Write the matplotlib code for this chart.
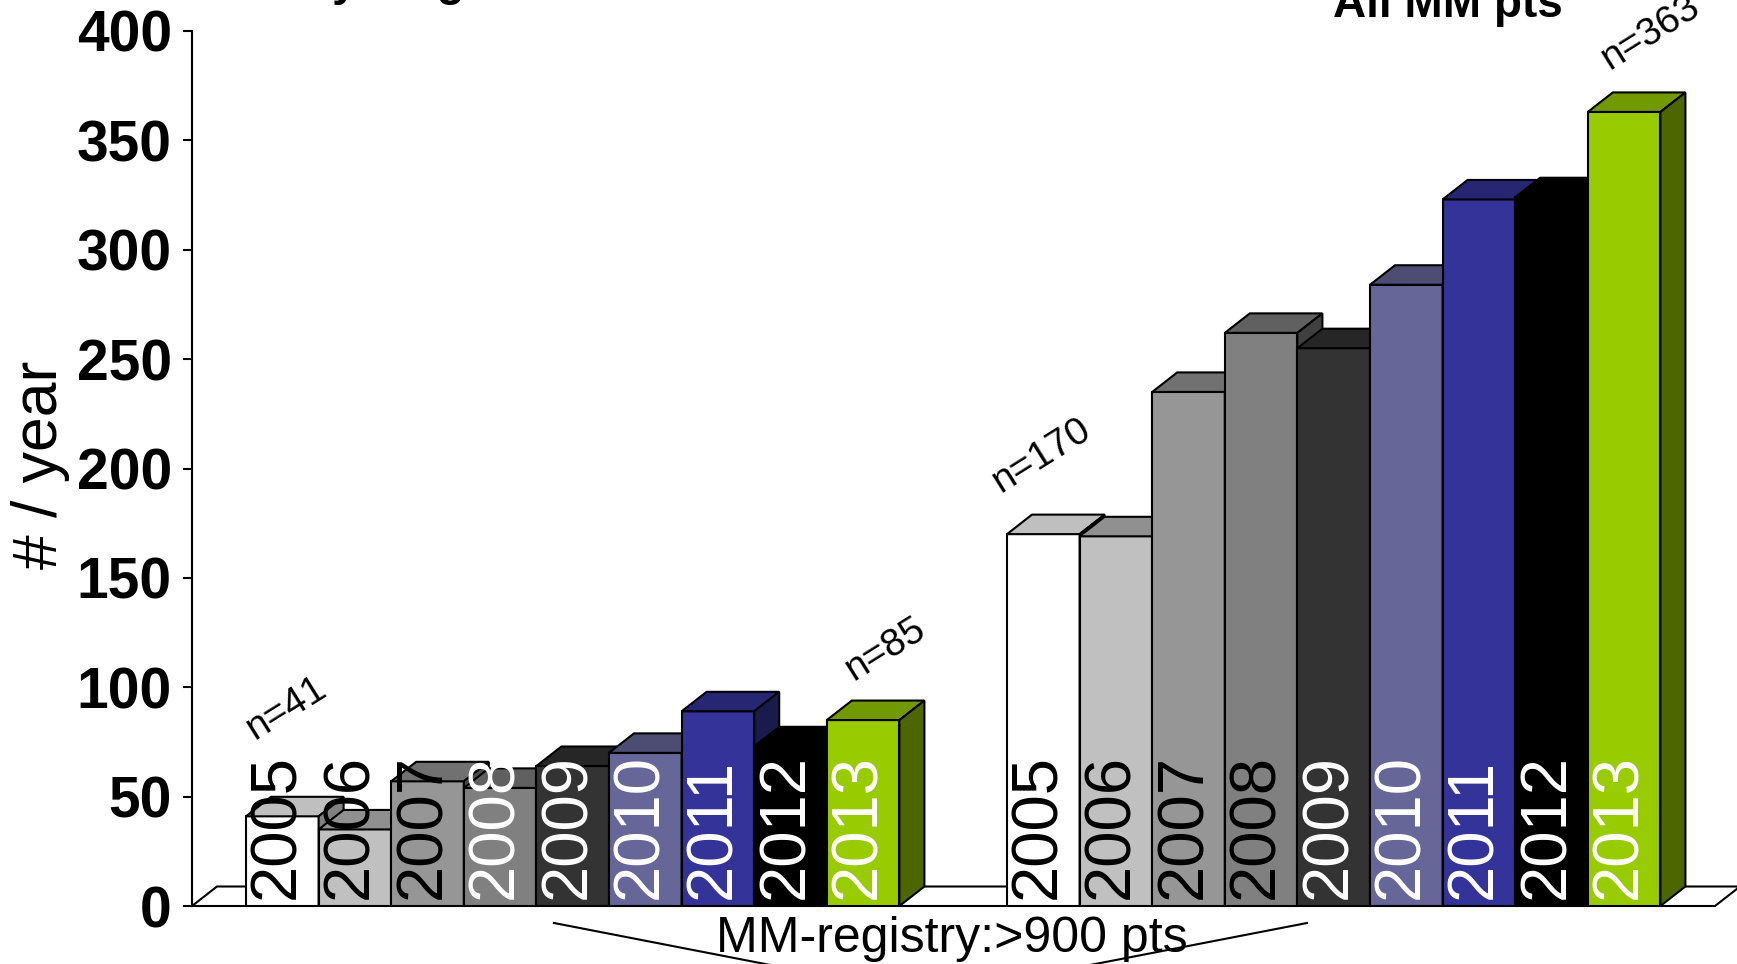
import numpy as np
import matplotlib
matplotlib.use("Agg")
import matplotlib.pyplot as plt
from matplotlib.patches import Polygon
from matplotlib.lines import Line2D
from matplotlib import font_manager
from matplotlib.colors import to_rgb

years = ["2005", "2006", "2007", "2008", "2009", "2010", "2011", "2012", "2013"]
registry_counts = [41, 35, 57, 54, 64, 70, 89, 73, 85]
all_counts = [170, 169, 235, 262, 255, 284, 323, 324, 363]
bar_colors = ["#FFFFFF", "#C0C0C0", "#969696", "#808080", "#333333",
              "#666699", "#333399", "#000000", "#99CC00"]
registry_year_colors = ["black"] * 3 + ["white"] * 6
all_year_colors = ["black"] * 4 + ["white"] * 5
y_ticks = [0, 50, 100, 150, 200, 250, 300, 350, 400]


def pick_font(names):
    have = {f.name for f in font_manager.fontManager.ttflist}
    for n in names:
        if n in have:
            return n
    return "DejaVu Sans"


NARROW = pick_font(["Liberation Sans Narrow", "Liberation Sans", "DejaVu Sans"])
SANS = pick_font(["Liberation Sans", "DejaVu Sans"])

W, H = 1737, 964
fig = plt.figure(figsize=(W / 100, H / 100), dpi=100)
# axes: y=0 at 906px, y=400 at 31px, y-axis at x=192px
ax = fig.add_axes([192 / W, (H - 906) / H, 1 - 192 / W, 875 / H])
bar_px = 72.6
ax.set_xlim(0, (W - 192) / bar_px)
ax.set_ylim(0, 400)

DX = 25 / bar_px            # depth offset, x units
DY = 19.5 / (875 / 400)     # depth offset, y units


def shade(c, f):
    r, g, b = to_rgb(c)
    return (r * f, g * f, b * f)


z = [2.0]


def draw_bar(x0, h, color):
    ax.bar(x0, h, width=1, align="edge", color=color, edgecolor="black",
           linewidth=1.5, zorder=z[0])
    top = Polygon([(x0, h), (x0 + 1, h), (x0 + 1 + DX, h + DY), (x0 + DX, h + DY)],
                  closed=True, fc=shade(color, 0.75), ec="black", lw=1.5, zorder=z[0])
    side = Polygon([(x0 + 1, 0), (x0 + 1 + DX, DY), (x0 + 1 + DX, h + DY), (x0 + 1, h)],
                   closed=True, fc=shade(color, 0.5), ec="black", lw=1.5, zorder=z[0])
    ax.add_patch(top)
    ax.add_patch(side)
    z[0] += 0.01


# floor
floor_end = (1715 - 192) / bar_px
ax.add_patch(Polygon([(0, 0), (floor_end, 0), (floor_end + DX, DY), (DX, DY)],
                     closed=True, fc="white", ec="black", lw=1.5, zorder=1.5,
                     clip_on=False))

left_x = 0.744 + np.arange(len(years))
right_x = 11.226 + np.arange(len(years))

for x0, h, c in zip(left_x, registry_counts, bar_colors):
    draw_bar(x0, h, c)
for x0, h, c in zip(right_x, all_counts, bar_colors):
    draw_bar(x0, h, c)

# year labels inside bars
for xs, cols in ((left_x, registry_year_colors), (right_x, all_year_colors)):
    for x0, yr, col in zip(xs, years, cols):
        ax.text(x0 + 0.67, 3, yr, rotation=90, rotation_mode="anchor",
                ha="left", va="baseline", fontsize=47, color=col,
                family=SANS, zorder=10)

# n= labels over first and last bars
n_labels = [
    (left_x[0] + 0.12, registry_counts[0] + 35, registry_counts[0]),
    (left_x[8] + 0.37, registry_counts[8] + 18, registry_counts[8]),
    (right_x[0] - 0.09, all_counts[0] + 19, all_counts[0]),
    (right_x[8] + 0.30, all_counts[8] + 19, all_counts[8]),
]
for x, y, v in n_labels:
    ax.text(x, y, f"n={v}", rotation=32, rotation_mode="anchor", ha="left",
            va="baseline", fontsize=28, family=SANS, zorder=10)

for s in ("top", "right", "bottom"):
    ax.spines[s].set_visible(False)
ax.spines["left"].set_linewidth(1.5)
ax.set_xticks([])
ax.set_yticks(y_ticks)
ax.tick_params(axis="y", length=6.5, width=1.5, pad=8)
for lab in ax.get_yticklabels():
    lab.set_fontfamily(NARROW)
    lab.set_fontweight("bold")
    lab.set_fontsize(41)

fig.text(41 / W, 1 - 465 / H, "# / year", rotation=90, ha="center", va="center",
         fontsize=45, family=SANS)

# group titles
fig.text(412 / W, 1 + 5 / H, "Newly diagnosed", ha="center", va="baseline",
         fontsize=33, fontweight="bold", family=SANS)
fig.text(1448 / W, 1 - 17 / H, "All MM pts", ha="center", va="baseline",
         fontsize=33, fontweight="bold", family=SANS)

# bracket under the registry bars
meet = (930 / W, 1 - 996 / H)
fig.add_artist(Line2D([554 / W, meet[0]], [1 - 923 / H, meet[1]], color="black", lw=1.5))
fig.add_artist(Line2D([1307 / W, meet[0]], [1 - 923 / H, meet[1]], color="black", lw=1.5))
fig.text(952 / W, 1 - 939 / H, "MM-registry:>900 pts", ha="center", va="center",
         fontsize=36, family=NARROW)

fig.savefig("out.png", dpi=100, facecolor="white")
